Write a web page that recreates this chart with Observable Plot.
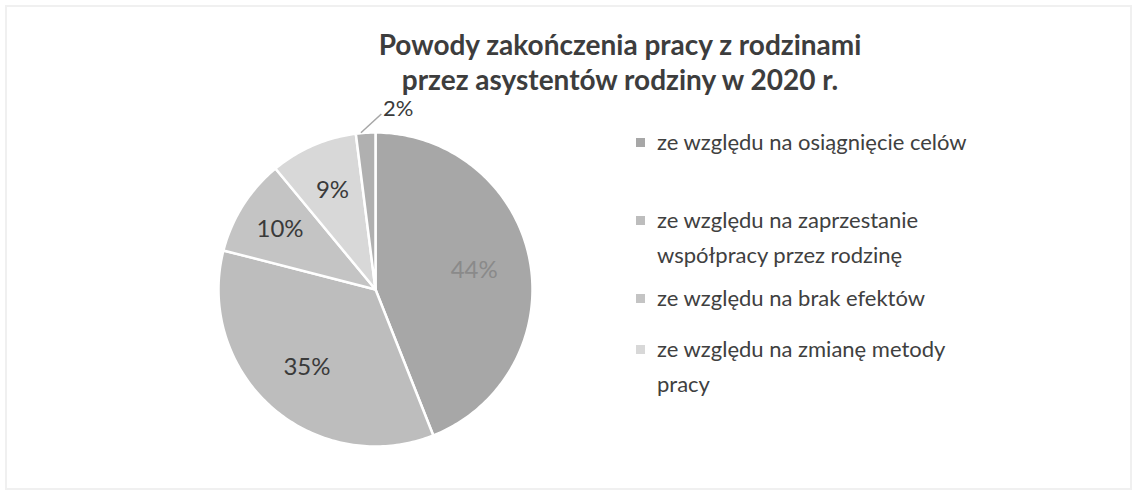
<!DOCTYPE html>
<html><head><meta charset="utf-8">
<script src="https://cdn.jsdelivr.net/npm/d3@7"></script>
<script src="https://cdn.jsdelivr.net/npm/@observablehq/plot@0.6"></script>
<style>
body{margin:0;background:#fff;}
#wrap{position:relative;width:1138px;height:497px;overflow:hidden;font-family:Lato,"Open Sans",sans-serif;color:#404040;}
#frame{position:absolute;left:5px;top:5px;width:1127px;height:485px;border:2px solid #f0f0f0;box-sizing:border-box;}
#chart{position:absolute;left:0;top:0;}
#title{position:absolute;left:270px;width:700px;top:27px;text-align:center;font-weight:700;font-size:28px;line-height:35px;color:#3d3d3d;}
#legend{position:absolute;left:636px;top:0;width:490px;font-size:22px;}
.item{position:absolute;left:0;display:flex;align-items:flex-start;line-height:35px;}
.sw{width:9px;height:9px;margin-top:14px;margin-right:12px;flex:none;}
.txt{width:320px;}
</style></head>
<body>
<div id="wrap">
  <div id="frame"></div>
  <div id="chart"></div>
  <div id="title">Powody zakończenia pracy z rodzinami<br>przez asystentów rodziny w 2020 r.</div>
  <div id="legend"></div>
</div>
<script>
// Data
const categories = [
  "ze względu na osiągnięcie celów",
  "ze względu na zaprzestanie współpracy przez rodzinę",
  "ze względu na brak efektów",
  "ze względu na zmianę metody pracy",
  "inne"
];
const shares = [44, 35, 10, 9, 2];
const shareLabels = ["44%", "35%", "10%", "9%", "2%"];
const sliceColors = ["#a7a7a7", "#bdbdbd", "#c4c4c4", "#d8d8d8", "#b0b0b0"];
const legendCount = 4;
const legendTops = [124, 202, 280, 331];

// Build slice geometry (angles clockwise from 12 o'clock, unit radius)
const total = d3.sum(shares);
let acc = 0;
const slices = categories.map((c, i) => {
  const a0 = acc / total * 2 * Math.PI;
  acc += shares[i];
  const a1 = acc / total * 2 * Math.PI;
  return {cat: c, value: shares[i], label: shareLabels[i], a0, a1, mid: (a0 + a1) / 2, i};
});
const pts = [];
for (const s of slices) {
  pts.push({cat: s.cat, x: 0, y: 0});
  const n = Math.max(2, Math.ceil((s.a1 - s.a0) / (Math.PI / 180)));
  for (let k = 0; k <= n; k++) {
    const a = s.a0 + (s.a1 - s.a0) * k / n;
    pts.push({cat: s.cat, x: Math.sin(a), y: Math.cos(a)});
  }
}
const labelR = [0.64, 0.66, 0.72, 0.69];
const inner = slices.filter(s => s.value >= 5);
const outer = slices.filter(s => s.value < 5);

const chart = Plot.plot({
  width: 1138,
  height: 497,
  margin: 0,
  style: {background: "transparent", overflow: "visible"},
  x: {domain: [-1, 1], range: [218, 532], axis: null},
  y: {domain: [-1, 1], range: [446, 132], axis: null},
  color: {domain: categories, range: sliceColors},
  marks: [
    Plot.line(pts, {x: "x", y: "y", z: "cat", fill: "cat", stroke: "white", strokeWidth: 2.5, curve: "linear-closed", strokeLinejoin: "round"}),
    Plot.text(inner.filter(s => s.i !== 0), {x: s => labelR[s.i] * Math.sin(s.mid), y: s => labelR[s.i] * Math.cos(s.mid), text: "label", fill: "#3a3a3a", fontSize: 24, fontFamily: "Lato, sans-serif"}),
    Plot.text(inner.filter(s => s.i === 0), {x: s => labelR[s.i] * Math.sin(s.mid), y: s => labelR[s.i] * Math.cos(s.mid), text: "label", fill: "#8a8a8a", fontSize: 24, fontFamily: "Lato, sans-serif"}),
    Plot.link(outer, {x1: s => Math.sin(s.mid) - 0.03, y1: s => Math.cos(s.mid), x2: s => Math.sin(s.mid) + 0.1, y2: s => Math.cos(s.mid) + 0.12, stroke: "#a6a6a6", strokeWidth: 1.5}),
    Plot.text(outer, {x: s => Math.sin(s.mid) + 0.11, y: s => Math.cos(s.mid) + 0.15, text: "label", fill: "#3a3a3a", fontSize: 22, fontFamily: "Lato, sans-serif", textAnchor: "start"})
  ]
});
document.getElementById("chart").appendChild(chart);

const legend = document.getElementById("legend");
categories.slice(0, legendCount).forEach((c, i) => {
  const it = document.createElement("div");
  it.className = "item";
  it.style.top = legendTops[i] + "px";
  const sw = document.createElement("div");
  sw.className = "sw";
  sw.style.background = sliceColors[i];
  const t = document.createElement("div");
  t.className = "txt";
  t.textContent = c;
  it.appendChild(sw); it.appendChild(t);
  legend.appendChild(it);
});
</script>
</body></html>
